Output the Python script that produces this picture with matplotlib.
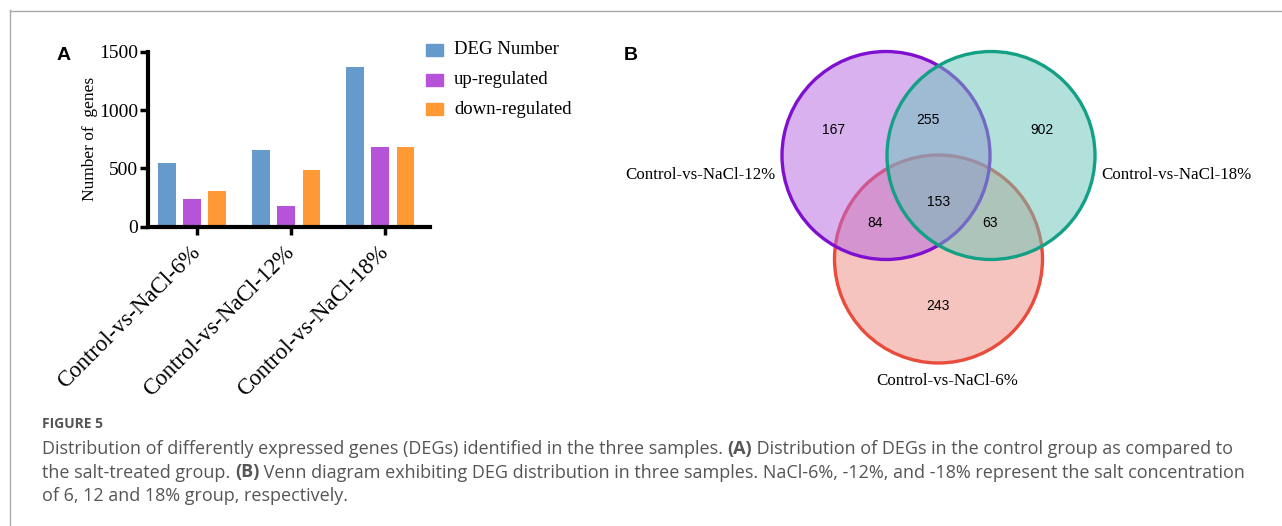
import numpy as np
import matplotlib
matplotlib.use("Agg")
import matplotlib.pyplot as plt
from matplotlib.patches import Ellipse, Rectangle
from matplotlib.lines import Line2D

W, H = 1282, 526
DPI = 100

# bar chart data (panel A)
groups = ["Control-vs-NaCl-6%", "Control-vs-NaCl-12%", "Control-vs-NaCl-18%"]
series = ["DEG Number", "up-regulated", "down-regulated"]
deg_number = [543, 659, 1373]
up_regulated = [235, 175, 686]
down_regulated = [309, 484, 687]
bar_colors = ["#6699cc", "#b653d8", "#ff9933"]
y_ticks = [0, 500, 1000, 1500]

# venn data (panel B)
venn_sets = ["Control-vs-NaCl-12%", "Control-vs-NaCl-18%", "Control-vs-NaCl-6%"]
only_12, only_18, only_6 = 167, 902, 243
n_12_18, n_12_6, n_18_6, n_all = 255, 84, 63, 153

serif = "Liberation Serif"
sans = "Liberation Sans"


def fx(px):
    return px / W


def fy(py):
    return 1 - py / H


fig = plt.figure(figsize=(W / DPI, H / DPI), dpi=DPI)

# ---------- panel A ----------
ax = fig.add_axes([fx(148), fy(226.7), fx(430 - 148), (226.7 - 51.7) / H])
x = np.arange(len(groups))
bw = 0.19
step = 0.27
for i, (vals, c) in enumerate(zip([deg_number, up_regulated, down_regulated], bar_colors)):
    ax.bar(x + (i - 1) * step, vals, width=bw, color=c, label=series[i])
ax.set_xlim(-0.468, 2.53)
ax.set_ylim(0, 1500)
ax.set_yticks(y_ticks)
ax.set_xticks(x + 0.05)
ax.set_xticklabels(groups, rotation=45, ha="right", va="center", rotation_mode="anchor",
                   fontfamily=serif, fontsize=16.5)
for lab in ax.get_yticklabels():
    lab.set_fontfamily(serif)
    lab.set_fontsize(14)
ax.tick_params(axis="both", width=2.5, length=6, direction="out", color="black")
ax.tick_params(axis="x", pad=10)
ax.tick_params(axis="y", pad=1)
for s in ["top", "right"]:
    ax.spines[s].set_visible(False)
for s in ["left", "bottom"]:
    ax.spines[s].set_linewidth(3)
ax.set_ylabel("Number of  genes", fontfamily=serif, fontsize=12.5, labelpad=1)

# legend drawn by hand to match the spacing
for i, (name, c) in enumerate(zip(series, bar_colors)):
    yc = 50 + i * 29.5
    fig.patches.append(Rectangle((fx(426), fy(yc + 6)), fx(17), 12 / H,
                                 transform=fig.transFigure, color=c))
    fig.text(fx(454), fy(yc), name, fontfamily=serif, fontsize=13.5, va="center")

fig.text(fx(57), fy(55), "A", fontfamily=sans, fontweight="bold", fontsize=14, va="center")
fig.text(fx(624), fy(55), "B", fontfamily=sans, fontweight="bold", fontsize=14, va="center")

# ---------- panel B ----------
vax = fig.add_axes([0, 0, 1, 1], zorder=-1)
vax.set_xlim(0, W)
vax.set_ylim(H, 0)
vax.axis("off")

diam = 208
ellipses = [
    ((938.5, 259), (237 / 255, 139 / 255, 127 / 255, 0.5), "#e84c3d"),  # 6%
    ((886, 155.5), (181 / 255, 101 / 255, 225 / 255, 0.5), "#7f10cf"),  # 12%
    ((991, 155.5), (103 / 255, 197 / 255, 185 / 255, 0.5), "#13a085"),  # 18%
]
for (cx, cy), fc, ec in ellipses:
    vax.add_patch(Ellipse((cx, cy), diam, diam, facecolor=fc, edgecolor=ec, linewidth=2.4))

counts = [only_12, n_12_18, only_18, n_12_6, n_all, n_18_6, only_6]
count_pos = [(834, 130), (927.6, 120), (1042, 130), (875.4, 223), (938.6, 202), (990.4, 223), (937.7, 306)]
for n, (px, py) in zip(counts, count_pos):
    vax.text(px, py, str(n), fontfamily=sans, fontsize=10, ha="center", va="center")

vax.text(775, 175, venn_sets[0], fontfamily=serif, fontsize=12.2, ha="right", va="center")
vax.text(1101, 175, venn_sets[1], fontfamily=serif, fontsize=12.2, ha="left", va="center")
vax.text(947.5, 381, venn_sets[2], fontfamily=serif, fontsize=12.2, ha="center", va="center")

# frame lines
vax.add_line(Line2D([9.5, 9.5], [10, H], color="#aaaaaa", linewidth=1))
vax.add_line(Line2D([9.5, W], [10.5, 10.5], color="#aaaaaa", linewidth=1))

# ---------- caption ----------
cap_color = "#555555"
cap_font = "Open Sans"
vax.text(42, 428, "FIGURE 5", fontfamily=cap_font, fontsize=10, fontweight="bold",
         color=cap_color, va="baseline")

lines = [
    [("Distribution of differently expressed genes (DEGs) identified in the three samples. ", "normal"),
     ("(A)", "bold"), (" Distribution of DEGs in the control group as compared to", "normal")],
    [("the salt-treated group. ", "normal"), ("(B)", "bold"),
     (" Venn diagram exhibiting DEG distribution in three samples. NaCl-6%, -12%, and -18% represent the salt concentration", "normal")],
    [("of 6, 12 and 18% group, respectively.", "normal")],
]
fig.canvas.draw()
renderer = fig.canvas.get_renderer()
for k, segs in enumerate(lines):
    xpos = 42
    ypos = 454 + k * 23.5
    for txt, wt in segs:
        t = vax.text(xpos, ypos, txt, fontfamily=cap_font, fontsize=13, fontweight=wt,
                     color=cap_color, va="baseline", ha="left")
        bb = t.get_window_extent(renderer=renderer)
        xpos += bb.width

fig.savefig("out.png", dpi=DPI)
